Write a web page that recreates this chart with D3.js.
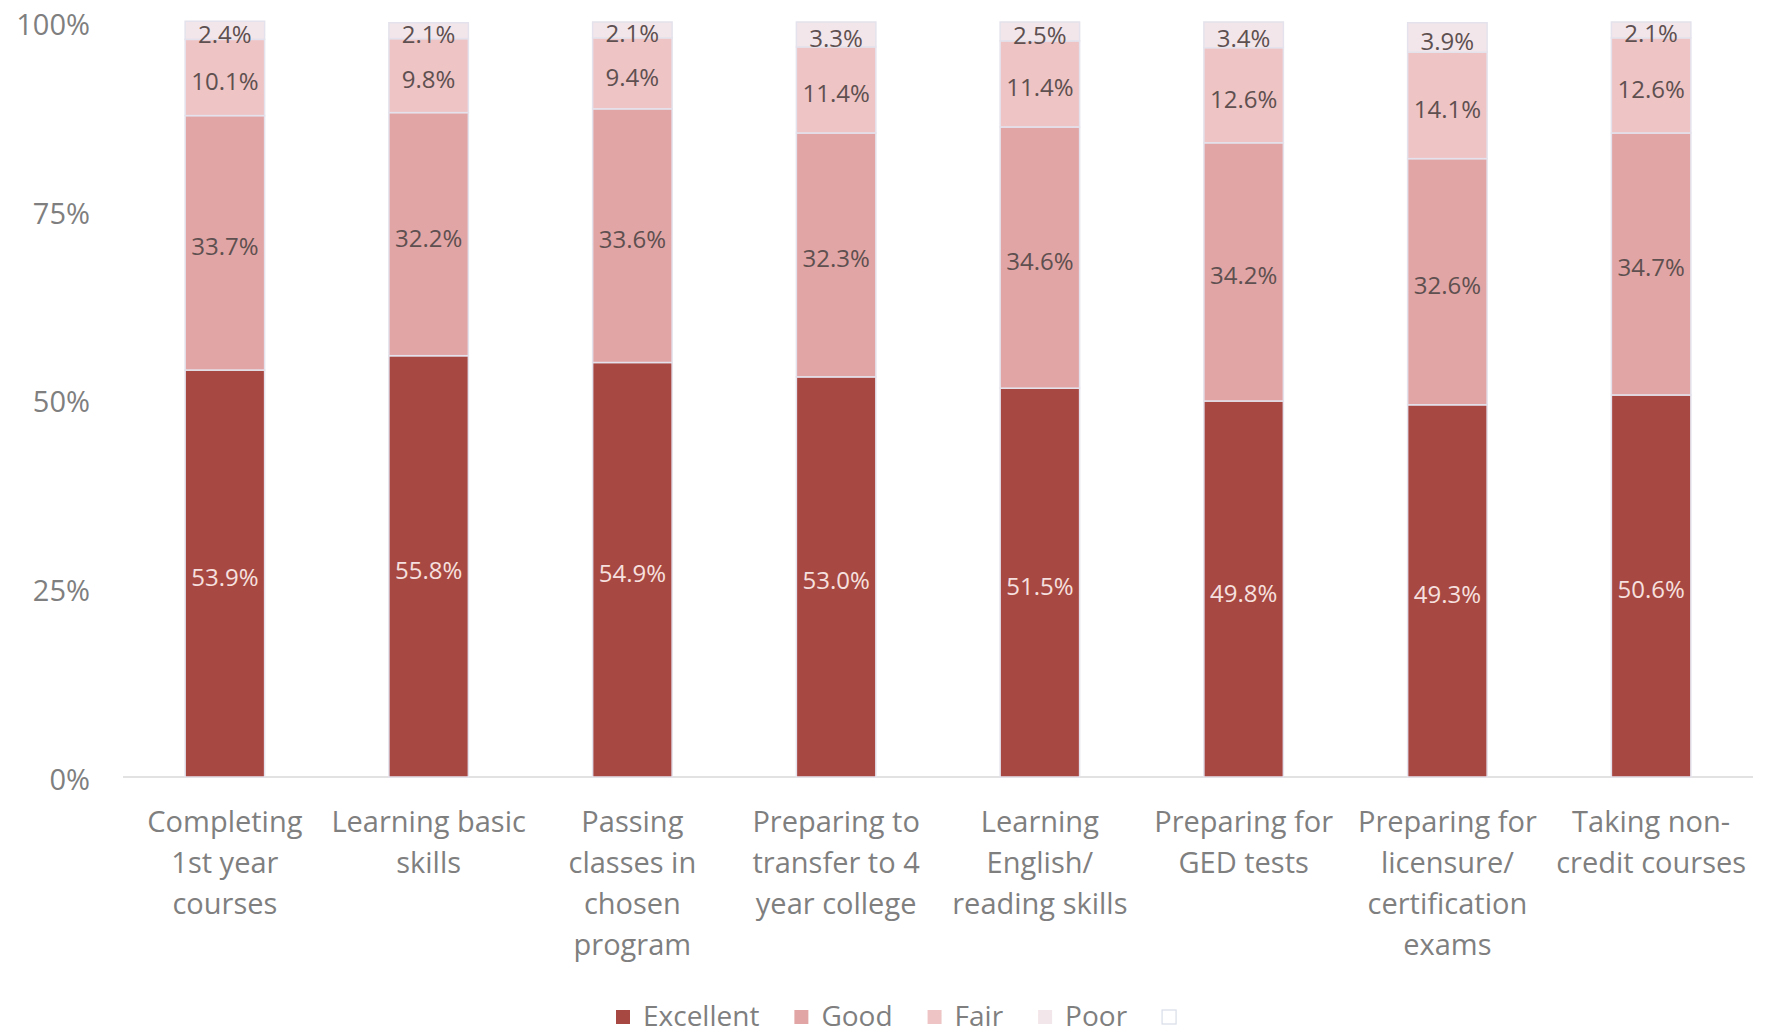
<!DOCTYPE html>
<html>
<head>
<meta charset="utf-8">
<script src="https://cdn.jsdelivr.net/npm/d3@7"></script>
<style>
  html, body { margin: 0; padding: 0; background: #ffffff; }
  svg { display: block; }
</style>
</head>
<body>
<svg id="chart" width="1769" height="1036"></svg>
<script>
// ---- data ----
const categories = [
  "Completing\n1st year\ncourses",
  "Learning basic\nskills",
  "Passing\nclasses in\nchosen\nprogram",
  "Preparing to\ntransfer to 4\nyear college",
  "Learning\nEnglish/\nreading skills",
  "Preparing for\nGED tests",
  "Preparing for\nlicensure/\ncertification\nexams",
  "Taking non-\ncredit courses"
];
const seriesNames = ["Excellent", "Good", "Fair", "Poor"];
const excellent = [53.9, 55.8, 54.9, 53.0, 51.5, 49.8, 49.3, 50.6];
const good      = [33.7, 32.2, 33.6, 32.3, 34.6, 34.2, 32.6, 34.7];
const fair      = [10.1,  9.8,  9.4, 11.4, 11.4, 12.6, 14.1, 12.6];
const poor      = [ 2.4,  2.1,  2.1,  3.3,  2.5,  3.4,  3.9,  2.1];
const yTicks = [0, 25, 50, 75, 100];
const legendKeys = ["Excellent", "Good", "Fair", "Poor", ""];

// ---- styles ----
const colors = {Excellent: "#a84843", Good: "#e2a5a5", Fair: "#eec4c5", Poor: "#f3e6ea", "": "#ffffff"};
const labelColors = {Excellent: "#f6e0df", Good: "#5e5050", Fair: "#5e5050", Poor: "#5e5050"};
const FONT = "'Open Sans', 'Noto Sans', sans-serif";

const rows = categories.map((c, i) => ({
  cat: c, Excellent: excellent[i], Good: good[i], Fair: fair[i], Poor: poor[i]
}));

const svg = d3.select("#chart");
const x = d3.scaleBand().domain(categories).range([123, 1753]).paddingInner(0.61).paddingOuter(0.305);
const y = d3.scaleLinear().domain([0, 100]).range([777, 22]);

const stack = d3.stack().keys(seriesNames);
const stacked = stack(rows);

// baseline axis
svg.append("line")
  .attr("x1", x.range()[0]).attr("x2", x.range()[1])
  .attr("y1", y(0)).attr("y2", y(0))
  .attr("stroke", "#d9d9d9").attr("stroke-width", 1.5);

// bars
const layers = svg.append("g").selectAll("g")
  .data(stacked).join("g")
  .attr("fill", d => colors[d.key]);

layers.selectAll("rect")
  .data(d => d.map(p => Object.assign(p, {key: d.key})))
  .join("rect")
  .attr("x", d => x(d.data.cat))
  .attr("width", x.bandwidth())
  .attr("y", d => y(d[1]))
  .attr("height", d => y(d[0]) - y(d[1]))
  .attr("stroke", "#e4e2ec")
  .attr("stroke-width", 1.5);

// data labels
layers.selectAll("text")
  .data(d => d)
  .join("text")
  .attr("x", d => x(d.data.cat) + x.bandwidth() / 2)
  .attr("y", d => (y(d[0]) + y(d[1])) / 2 + 3)
  .attr("text-anchor", "middle")
  .attr("dominant-baseline", "central")
  .attr("font-family", FONT)
  .attr("font-size", 24)
  .attr("fill", d => labelColors[d.key])
  .text(d => (d[1] - d[0]).toFixed(1) + "%");

// y axis labels
const yAxis = d3.axisLeft(y).tickValues(yTicks).tickFormat(d => d + "%").tickSize(0).tickPadding(0);
const yg = svg.append("g").attr("transform", "translate(90,3)").call(yAxis);
yg.select(".domain").remove();
yg.selectAll("text")
  .attr("font-family", FONT).attr("font-size", 29).attr("fill", "#7f7f7f");

// x axis labels (multi-line)
const xAxis = d3.axisBottom(x).tickSize(0).tickFormat("");
const xg = svg.append("g").attr("transform", `translate(0,${y(0)})`).call(xAxis);
xg.select(".domain").remove();
xg.selectAll(".tick").each(function(d) {
  const t = d3.select(this).append("text")
    .attr("text-anchor", "middle")
    .attr("font-family", FONT).attr("font-size", 29).attr("fill", "#7f7f7f");
  d.split("\n").forEach((line, i) => {
    t.append("tspan").attr("x", 0).attr("y", 55 + i * 41).text(line);
  });
});

// legend
const lg = svg.append("g").attr("transform", "translate(616,1015)");
let lx = 0;
legendKeys.forEach(k => {
  const item = lg.append("g").attr("transform", `translate(${lx},0)`);
  item.append("rect").attr("x", 0).attr("y", -5).attr("width", 14).attr("height", 14)
    .attr("fill", colors[k])
    .attr("stroke", k === "" ? "#d8dde8" : "none").attr("stroke-width", 1.2);
  const t = item.append("text").attr("x", 27).attr("y", 0)
    .attr("dominant-baseline", "central")
    .attr("font-family", FONT).attr("font-size", 28).attr("fill", "#7f7f7f")
    .text(k);
  const w = k ? t.node().getComputedTextLength() : 0;
  lx += 27 + w + 35;
});
</script>
</body>
</html>
